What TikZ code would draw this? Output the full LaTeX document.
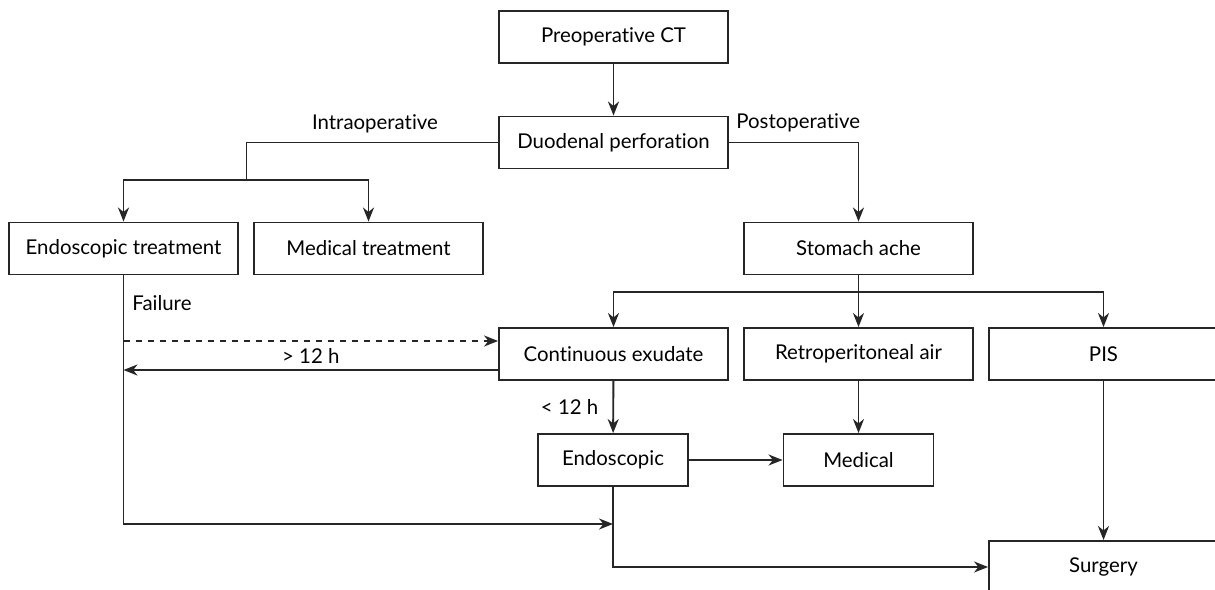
\documentclass[tikz,border=0pt]{standalone}
\usepackage{fontspec}
\setmainfont{Lato}[Ligatures=NoCommon]
\usetikzlibrary{arrows.meta,positioning}

\begin{document}
\begin{tikzpicture}[x=0.5pt, y=-0.5pt, >={Stealth[length=7pt,width=5.5pt,inset=2.2pt]},
	box/.style={draw=black!85, line width=0.95pt, minimum width=114.5pt, minimum height=26pt, inner sep=0pt, font=\fontsize{10.2}{12}\selectfont},
	smallbox/.style={box, minimum width=75pt},
	lbl/.style={inner sep=0pt, font=\fontsize{10.2}{12}\selectfont},
	line/.style={draw=black!85, line width=0.95pt}]
	\useasboundingbox (0,0) rectangle (1215,589);
	
	% Nodes {ct, perf, endo, med, ache, exud, air, pis, endo2, med2, surg}
	\node [box]		 (ct)	 at (613.5,37)	  {Preoperative CT};
	\node [box]		 (perf)	 at (613.5,142.5) {Duodenal perforation};
	\node [box]		 (endo)	 at (123.5,248.5) {Endoscopic treatment};
	\node [box]		 (med)	 at (368.5,248.5) {Medical treatment};
	\node [box]		 (ache)	 at (858.5,248.5) {Stomach ache};
	\node [box]		 (exud)	 at (613.5,354)	  {Continuous exudate};
	\node [box]		 (air)	 at (858.5,354)	  {Retroperitoneal air};
	\node [box]		 (pis)	 at (1103.5,354)  {PIS};
	\node [smallbox] (endo2) at (613,460)	  {Endoscopic};
	\node [smallbox] (med2)	 at (858.5,460)	  {Medical};
	\node [box]		 (surg)	 at (1103.5,567)  {Surgery};
	
	% Branch points
	\coordinate (intra) at (246.5,180);
	\coordinate (post)	at (858.5,292);
	\coordinate (fail)	at (123.5,341);
	\coordinate (late)	at (123.5,370);
	\coordinate (join)	at (123.5,524);
	
	% Labels
	\node [lbl]				(lintra) at (375,124)  {Intraoperative};
	\node [lbl, anchor=west] (lpost)  at (736,123)  {Postoperative};
	\node [lbl, anchor=west] (lfail)  at (132,303)  {Failure};
	
	% Paths
	\path [line, ->] (ct) -- (perf);
	\path [line]	 (perf.west) -| (intra);
	\path [line, ->] (intra) -| (endo);
	\path [line, ->] (intra) -| (med);
	\path [line, ->] (perf.east) -| (ache);
	\path [line]	 (ache) -- (post);
	\path [line, ->] (post) -| (exud);
	\path [line, ->] (post) -- (air);
	\path [line, ->] (post) -| (pis);
	\path [line, dashed, ->] (fail) -- (fail -| exud.west);
	\path [line, ->] (late -| exud.west) -- node [lbl, above=3pt] {> 12 h} (late);
	\path [line, ->] (endo) -- (join) -- (join -| endo2.south);
	\path [line, ->] (exud) -- node [lbl, left=7pt] {< 12 h} (endo2);
	\path [line, ->] (air) -- (med2);
	\path [line, ->] (endo2) -- (med2);
	\path [line, ->] (endo2.south) |- (surg.west);
	\path [line, ->] (pis) -- (surg);
	
\end{tikzpicture}
\end{document}
